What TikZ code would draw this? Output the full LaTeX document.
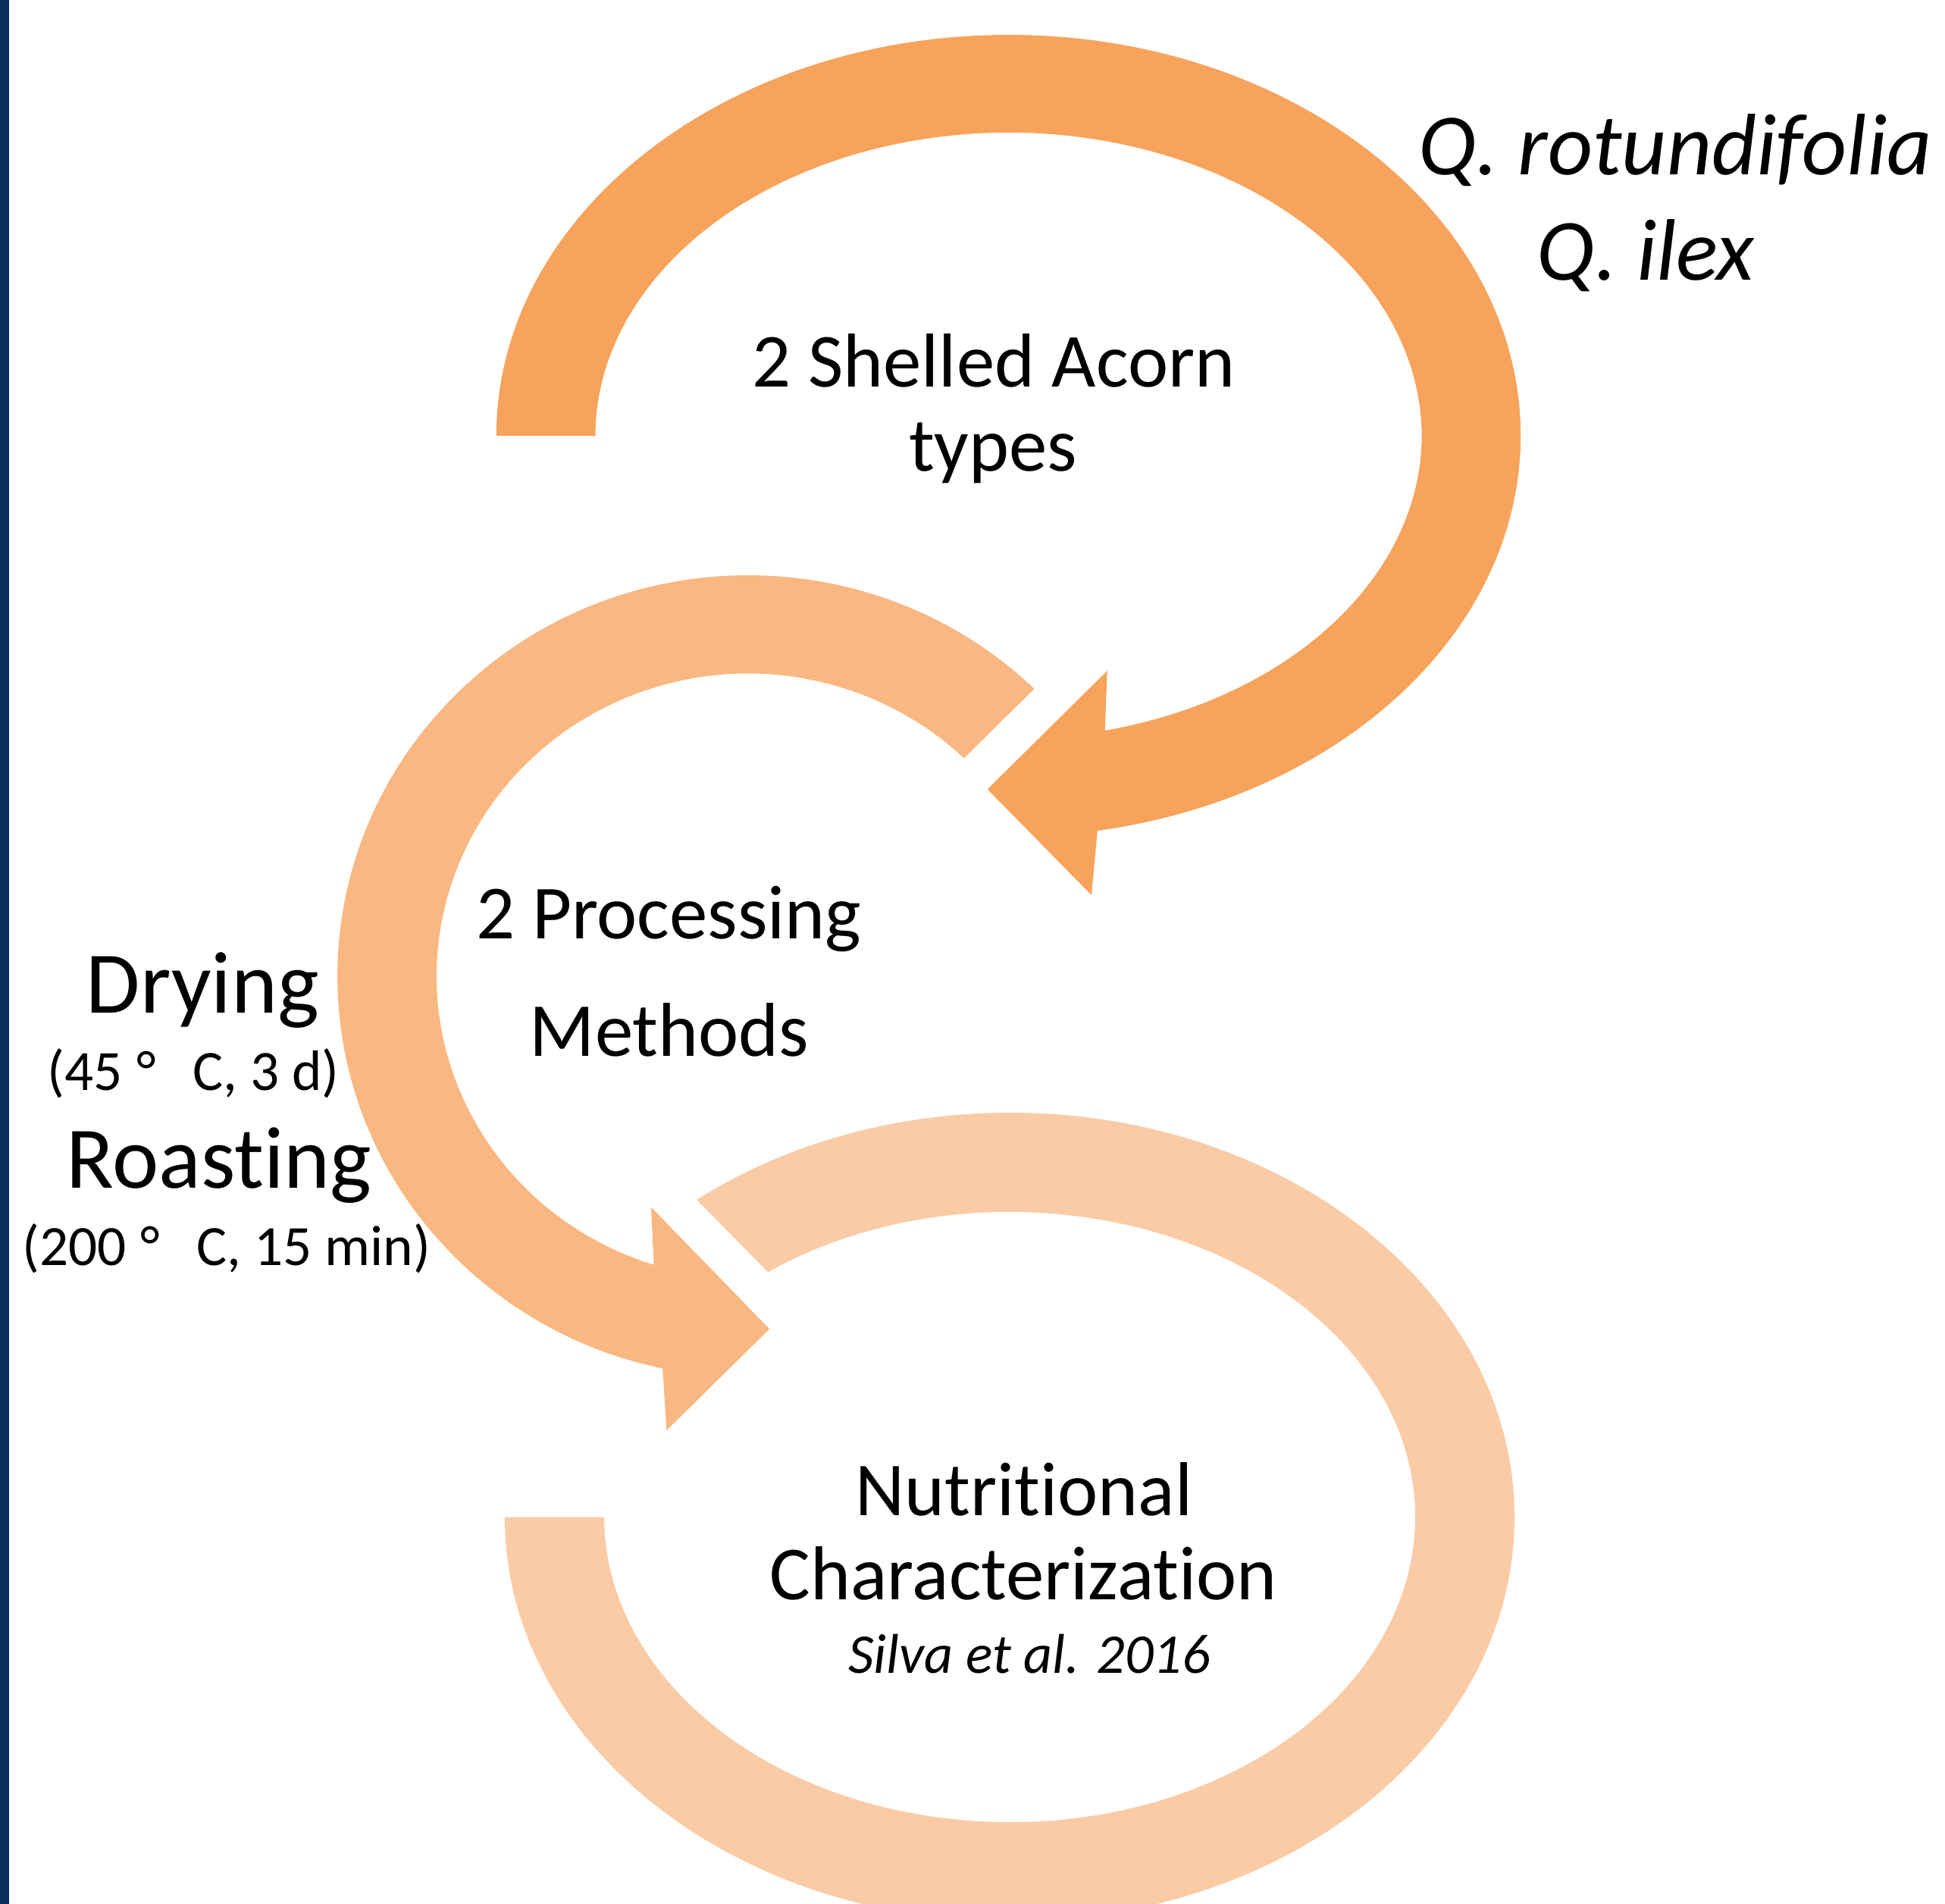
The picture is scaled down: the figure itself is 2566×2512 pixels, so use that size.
\documentclass[tikz,border=0pt]{standalone}
\usepackage{fontspec}
\setmainfont{Carlito}[Ligatures={NoCommon,NoContextual}]
\definecolor{arcA}{RGB}{247,163,92}
\definecolor{arcB}{RGB}{249,183,129}
\definecolor{arcC}{RGB}{250,203,165}
\definecolor{barblue}{RGB}{13,45,94}
\begin{document}
\begin{tikzpicture}[x=0.25pt,y=-0.25pt,
  lbl/.style={inner sep=0pt, outer sep=0pt, anchor=base, text=black},
  mainlbl/.style={lbl, font=\fontsize{25.2}{30}\selectfont},
  biglbl/.style={lbl, font=\fontsize{29}{34}\selectfont},
  spclbl/.style={lbl, font=\fontsize{28.8}{33}\selectfont\itshape},
  smalllbl/.style={lbl, font=\fontsize{18.8}{22}\selectfont},
  citelbl/.style={lbl, font=\fontsize{18.5}{22}\selectfont\itshape}]
\useasboundingbox (0,0) rectangle (2566,2512);
\clip (0,0) rectangle (2566,2512);
\fill[white] (0,0) rectangle (2566,2512);
\fill[barblue] (0,0) rectangle (12,2512);

% bottom band (lightest)
\fill[arcC] (666,2001.5)
  arc[start angle=180, end angle=-128.3, x radius=666, y radius=533.5]
  -- (1013.1,1678.3)
  arc[start angle=-126.6, end angle=180, x radius=535, y radius=402.6]
  -- cycle;

% middle arrow
\fill[arcB] (1364.5,908.8)
  arc[start angle=-45.8, end angle=-258, x radius=541.7, y radius=529]
  -- (879.3,1887.3) -- (1015,1753.3) -- (859,1592.7) -- (862.6,1668.7)
  arc[start angle=-252.4, end angle=-46.1, x radius=410.8, y radius=399.4]
  -- cycle;

% top arrow
\fill[arcA] (654.8,575)
  arc[start angle=180, end angle=440, x radius=675.7, y radius=529]
  -- (1440,1181) -- (1302.7,1041.3) -- (1460.7,885) -- (1457.7,963.9)
  arc[start angle=436.5, end angle=180, x radius=545, y radius=400]
  -- cycle;

% labels
\node[mainlbl] (shelled) at (1311,511) {2 Shelled Acorn};
\node[mainlbl] (types) at (1310,622) {types};
\node[spclbl] (qrot) at (2210,231) {Q. rotundifolia};
\node[spclbl] (qilex) at (2171,370) {Q. ilex};
\node[mainlbl] (proc) at (882,1238.5) {2 Processing};
\node[mainlbl] (meth) at (883,1393) {Methods};
\node[biglbl] (drying) at (267.5,1336.5) {Drying};
\node[smalllbl] (drycond) at (255,1438) {(45\hspace{0.25em}°\hspace{0.65em}C, 3 d)};
\node[biglbl] (roasting) at (289,1567) {Roasting};
\node[smalllbl] (roastcond) at (298.6,1669) {(200\hspace{0.25em}°\hspace{0.65em}C, 15 min)};
\node[mainlbl] (nutr) at (1351,1999.5) {Nutritional};
\node[mainlbl] (charz) at (1350,2110.5) {Characterization};
\node[citelbl] (silva) at (1358,2207) {Silva et al. 2016};
\end{tikzpicture}
\end{document}
